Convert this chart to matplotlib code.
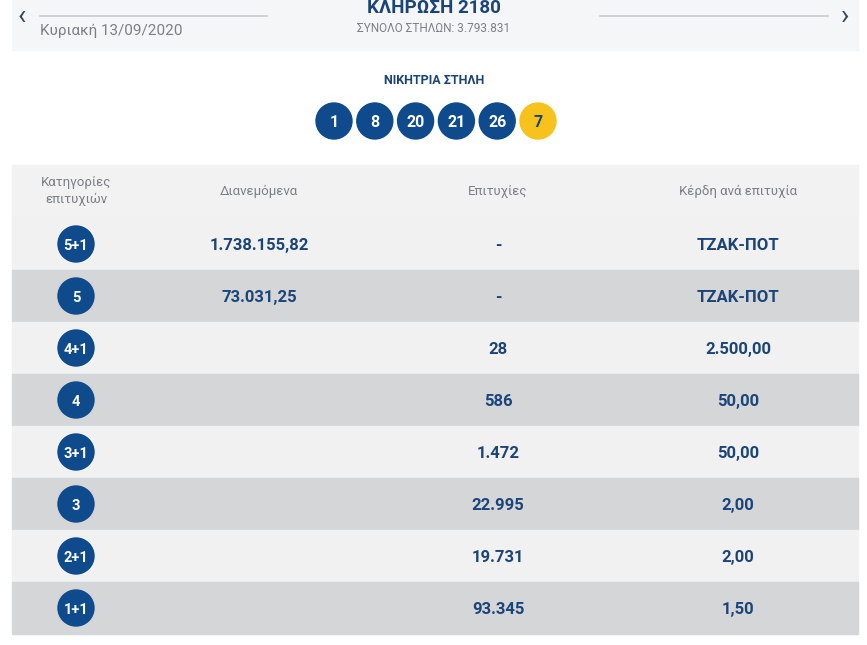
import matplotlib.pyplot as plt
from matplotlib.patches import Rectangle, Circle

draw_no = "2180"
draw_date = "Κυριακή 13/09/2020"
total_columns = "3.793.831"
winning_numbers = ["1", "8", "20", "21", "26"]
joker = "7"

headers = ["Κατηγορίες\nεπιτυχιών", "Διανεμόμενα", "Επιτυχίες", "Κέρδη ανά επιτυχία"]
categories = ["5+1", "5", "4+1", "4", "3+1", "3", "2+1", "1+1"]
distributed = ["1.738.155,82", "73.031,25", "", "", "", "", "", ""]
winners = ["-", "-", "28", "586", "1.472", "22.995", "19.731", "93.345"]
prizes = ["ΤΖΑΚ-ΠΟΤ", "ΤΖΑΚ-ΠΟΤ", "2.500,00", "50,00", "50,00", "2,00", "2,00", "1,50"]

BLUE = "#0e4a8c"
TEXT_BLUE = "#1b4478"
YELLOW = "#f7c21c"
GRAY_TXT = "#7c7f84"
FONT = ["Roboto", "DejaVu Sans"]

W, H = 867, 645
fig = plt.figure(figsize=(W / 100, H / 100), dpi=100)
ax = fig.add_axes([0, 0, 1, 1])
ax.set_xlim(0, W)
ax.set_ylim(H, 0)
ax.set_aspect("equal")
ax.axis("off")

# top band
ax.add_patch(Rectangle((12, 0), 846, 50, color="#f5f6f8", zorder=0))
ax.plot([40, 267], [16, 16], color="#c8cbd0", lw=1.2)
ax.plot([600, 828], [16, 16], color="#c8cbd0", lw=1.2)
ax.text(22, 16, "‹", ha="center", va="center", fontsize=20, color="#33475b", family=FONT)
ax.text(845, 17, "›", ha="center", va="center", fontsize=20, color="#33475b", family=FONT)
ax.text(40, 31, draw_date, ha="left", va="center", fontsize=11, color=GRAY_TXT, family=FONT)
ax.text(434, 8, f"ΚΛΗΡΩΣΗ {draw_no}", ha="center", va="center", fontsize=13.5,
        fontweight="bold", color=TEXT_BLUE, family=FONT)
ax.text(434, 29, f"ΣΥΝΟΛΟ ΣΤΗΛΩΝ: {total_columns}", ha="center", va="center",
        fontsize=8.5, color=GRAY_TXT, family=FONT)

# winning column
ax.text(434, 80, "ΝΙΚΗΤΡΙΑ ΣΤΗΛΗ", ha="center", va="center", fontsize=9,
        fontweight="bold", color=TEXT_BLUE, family=FONT)
balls = winning_numbers + [joker]
for i, num in enumerate(balls):
    cx = 334 + i * 40.8
    col = YELLOW if i == len(balls) - 1 else BLUE
    tcol = TEXT_BLUE if i == len(balls) - 1 else "white"
    ax.add_patch(Circle((cx, 121), 18, color=col, zorder=2))
    ax.text(cx, 121, num, ha="center", va="center_baseline", fontsize=11.5,
            fontweight="bold", color=tcol, family=FONT, zorder=3)

# table
col_x = [76, 259, 498, 738]
ax.add_patch(Rectangle((12, 165), 846, 53, color="#f2f2f2", zorder=0))
for x, h in zip(col_x, headers):
    ax.text(x, 191, h, ha="center", va="center", fontsize=9.5, color=GRAY_TXT,
            family=FONT, linespacing=1.4)

row_h = 52
for r, cat in enumerate(categories):
    y0 = 218 + r * row_h
    yc = y0 + row_h / 2
    bg = "#f1f1f1" if r % 2 == 0 else "#d4d6d8"
    ax.add_patch(Rectangle((12, y0), 846, row_h, color=bg, zorder=0))
    ax.add_patch(Circle((col_x[0], yc), 18, color=BLUE, zorder=2))
    ax.text(col_x[0], yc, cat, ha="center", va="center_baseline", fontsize=10.5,
            fontweight="bold", color="white", family=FONT, zorder=3)
    for x, val in zip(col_x[1:], [distributed[r], winners[r], prizes[r]]):
        ax.text(x, yc, val, ha="center", va="center_baseline", fontsize=12,
                fontweight="bold", color=TEXT_BLUE, family=FONT, zorder=3)

fig.savefig("out.png", dpi=100)
